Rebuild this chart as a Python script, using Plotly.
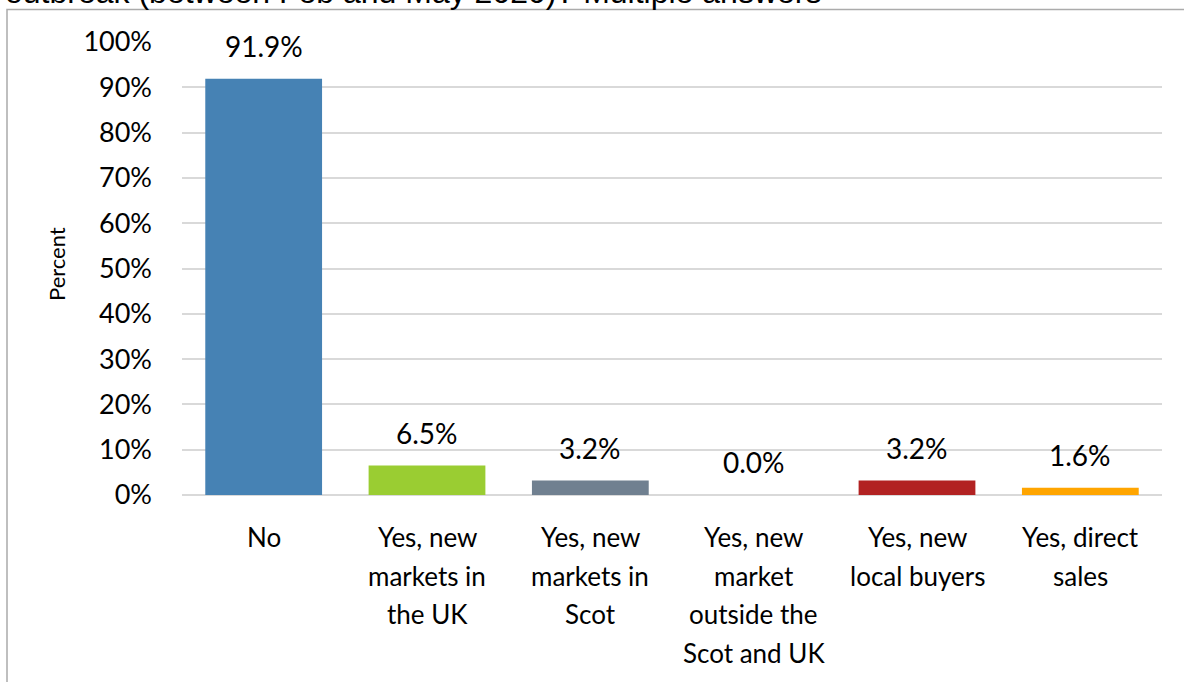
import plotly.graph_objects as go

categories = ["No", "Yes, new<br>markets in<br>the UK", "Yes, new<br>markets in<br>Scot",
              "Yes, new<br>market<br>outside the<br>Scot and UK", "Yes, new<br>local buyers",
              "Yes, direct<br>sales"]
values = [91.9, 6.5, 3.2, 0.0, 3.2, 1.6]
bar_colors = ["#4682B4", "#9ACD32", "#708090", "#C0C0C0", "#B22222", "#FFA500"]
tick_vals = list(range(0, 101, 10))
tick_text = [f"{v}%" for v in tick_vals]
title_text = "outbreak (between Feb and May 2020)? Multiple answers"
y_title = "Percent"

FONT = "Lato, Calibri, Carlito, sans-serif"

W, H = 1184, 682
L, R, T, B = 182, 22, 42, 187
pw, ph = W - L - R, H - T - B


def px_x(x):
    return (x - L) / pw


def px_y(y):
    return (H - B - y) / ph


fig = go.Figure()
fig.add_trace(go.Bar(x=categories, y=values, marker=dict(color=bar_colors, line=dict(width=0)),
                     width=0.715, hoverinfo="skip"))

# data labels
for c, v in zip(categories, values):
    fig.add_annotation(x=c, y=v, text=f"{v:.1f}%", showarrow=False, yanchor="bottom",
                       yshift=14, font=dict(family=FONT, size=28, color="#000000"))

# category labels (one annotation per line for Excel-like line spacing)
LINE_H = 38.7
for c in categories:
    for k, line in enumerate(c.split("<br>")):
        fig.add_annotation(x=c, y=0, xref="x", yref="paper", text=line, showarrow=False,
                           yanchor="middle", yshift=-(42 + k * LINE_H),
                           font=dict(family=FONT, size=26, color="#000000"))

# outer chart border
fig.add_shape(type="rect", xref="paper", yref="paper",
              x0=px_x(7), x1=px_x(1200), y0=px_y(700), y1=px_y(9.5),
              line=dict(color="#ABABAB", width=1.5), fillcolor="rgba(0,0,0,0)", layer="below")

# title (cut off at the top as in the reference)
fig.add_annotation(xref="paper", yref="paper", x=px_x(3), y=px_y(12), xanchor="left", yanchor="bottom",
                   text=title_text, showarrow=False,
                   font=dict(family="Liberation Sans, Arial, sans-serif", size=32, color="#000000"))

# y-axis title
fig.add_annotation(xref="paper", yref="paper", x=px_x(56), y=px_y(264), xanchor="center", yanchor="middle",
                   text=y_title, textangle=-90, showarrow=False,
                   font=dict(family=FONT, size=22, color="#000000"))

fig.update_layout(
    width=W, height=H,
    margin=dict(l=L, r=R, t=T, b=B, autoexpand=False),
    paper_bgcolor="white", plot_bgcolor="white",
    showlegend=False,
    bargap=0.28,
    font=dict(family=FONT, size=26, color="#000000"),
    xaxis=dict(showgrid=False, showline=False, ticks="", showticklabels=False),
    yaxis=dict(range=[0, 100], tickvals=tick_vals, ticktext=tick_text,
               showgrid=True, gridcolor="#D9D9D9", gridwidth=1.5,
               zeroline=True, zerolinecolor="#D9D9D9", zerolinewidth=1.5,
               showline=False, ticks="", ticklabelstandoff=29,
               tickfont=dict(family=FONT, size=27, color="#000000")),
)

fig.write_html("out.html", config={"displayModeBar": False},
               post_script="document.body.style.margin='0px';document.body.style.overflow='hidden';")
